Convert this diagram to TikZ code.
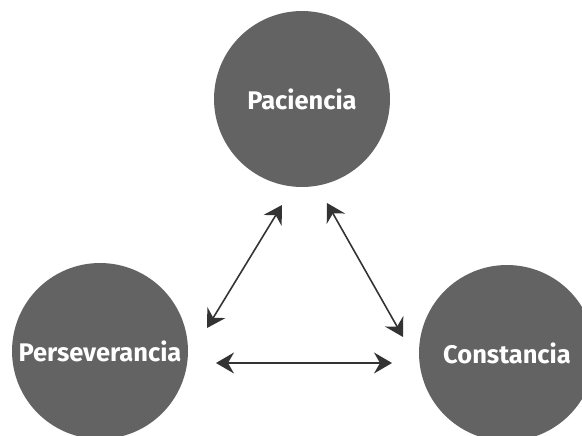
\documentclass[tikz,border=0pt]{standalone}
\usepackage{fontspec}
\setmainfont{Fira Sans}
\usetikzlibrary{arrows.meta,positioning}

\begin{document}
\begin{tikzpicture}[x=0.02cm,y=-0.02cm]
		\tikzstyle{virtue} = [circle, minimum size=3.52cm, inner sep=0pt, fill=circlegray, text=white, font=\fontsize{14.5}{16}\selectfont\bfseries]
		\tikzstyle{relates} = [draw=linegray, line width=0.9pt, {Stealth[length=0.36cm,width=0.42cm,inset=0.12cm]}-{Stealth[length=0.36cm,width=0.42cm,inset=0.12cm]}]
		\definecolor{circlegray}{HTML}{636363}
		\definecolor{linegray}{HTML}{333333}
		
		\useasboundingbox (0,0) rectangle (582,436);
		
		\begin{scope}
			\clip (0,0) rectangle (582,436);
			\node (paciencia) [virtue] at (302,99) {Paciencia};
			\node (perseverancia) [virtue] at (100,351) {Perseverancia};
			\node (constancia) [virtue] at (507,353) {Constancia};
		\end{scope}
		
		\coordinate (pacienciaLeft) at (282,205);
		\coordinate (pacienciaRight) at (327,203);
		\coordinate (perseveranciaTop) at (207,328);
		\coordinate (perseveranciaRight) at (216,363);
		\coordinate (constanciaTop) at (403,337);
		\coordinate (constanciaLeft) at (392,363);
		
		\draw [relates] (pacienciaLeft) -- (perseveranciaTop);
		\draw [relates] (pacienciaRight) -- (constanciaTop);
		\draw [relates] (perseveranciaRight) -- (constanciaLeft);
	
	\end{tikzpicture}
\end{document}
